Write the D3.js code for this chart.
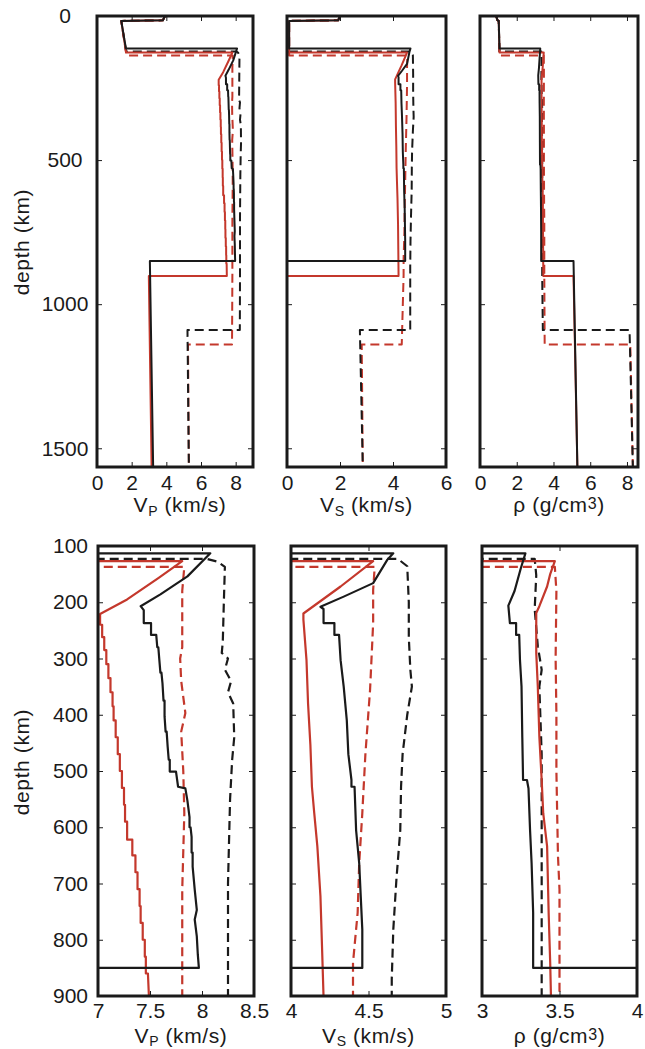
<!DOCTYPE html>
<html>
<head>
<meta charset="utf-8">
<title>profiles</title>
<script src="https://cdnjs.cloudflare.com/ajax/libs/d3/7.8.5/d3.min.js"></script>
<style>
  body { margin: 0; background: #fff; }
  svg { display: block; }
  text { font-family: "Liberation Sans", Arial, Helvetica, sans-serif; fill: #1a1a1a; }
</style>
</head>
<body>
<script>
// depth (km), value pairs
var vpBlackSolid = [[0,3.92],[15,3.8],[17,1.4],[113,1.67],[113,8.08],[154,7.86],[186,7.6],[207,7.41],[214,7.44],[237,7.44],[237,7.51],[258,7.51],[258,7.56],[280,7.57],[280,7.58],[303,7.59],[325,7.6],[325,7.61],[344,7.62],[375,7.63],[375,7.64],[403,7.64],[430,7.65],[430,7.66],[457,7.67],[480,7.68],[480,7.69],[501,7.69],[501,7.75],[528,7.77],[531,7.84],[553,7.86],[582,7.88],[600,7.88],[600,7.89],[617,7.90],[645,7.9],[645,7.91],[670,7.91],[711,7.93],[747,7.95],[764,7.93],[794,7.95],[827,7.96],[850,7.97],[850,3.05],[1565,3.24]];
var vpBlackDashed = [[0,3.92],[15,3.8],[17,1.4],[123,1.68],[123,8.05],[128,8.15],[137,8.22],[200,8.21],[270,8.2],[290,8.19],[300,8.25],[320,8.22],[340,8.28],[360,8.25],[380,8.3],[440,8.31],[480,8.29],[550,8.27],[700,8.25],[900,8.25],[1090,8.24],[1090,5.22],[1565,5.3]];
var vpRedSolid = [[0,3.92],[15,3.8],[17,1.4],[127,1.68],[127,7.81],[157,7.58],[195,7.28],[221,7.02],[240,7.02],[240,7.04],[262,7.04],[262,7.06],[285,7.06],[285,7.08],[310,7.08],[310,7.1],[335,7.1],[335,7.12],[360,7.12],[360,7.14],[385,7.14],[385,7.15],[410,7.15],[410,7.17],[440,7.17],[440,7.19],[470,7.19],[470,7.21],[500,7.21],[500,7.23],[530,7.23],[530,7.25],[560,7.25],[560,7.26],[590,7.26],[590,7.28],[622,7.28],[622,7.33],[650,7.33],[650,7.36],[680,7.36],[680,7.38],[710,7.38],[710,7.4],[740,7.4],[740,7.41],[770,7.41],[770,7.43],[800,7.43],[800,7.45],[830,7.45],[830,7.46],[860,7.46],[860,7.48],[902,7.49],[902,2.99],[1565,3.15]];
var vpRedDashed = [[0,3.92],[15,3.8],[17,1.4],[137,1.7],[137,7.83],[180,7.81],[280,7.81],[300,7.79],[340,7.8],[397,7.84],[430,7.8],[500,7.82],[575,7.83],[711,7.81],[900,7.81],[1140,7.79],[1140,5.25],[1565,5.3]];

var vsBlackSolid = [[0,2.0],[15,1.93],[17,0.08],[113,0.08],[113,4.66],[125,4.62],[166,4.53],[190,4.34],[208,4.19],[212,4.21],[237,4.21],[237,4.28],[258,4.28],[258,4.31],[303,4.32],[350,4.34],[410,4.36],[470,4.37],[516,4.39],[528,4.39],[528,4.41],[605,4.42],[664,4.44],[723,4.45],[782,4.46],[850,4.46],[850,0],[1565,0]];
var vsBlackDashed = [[0,2.0],[15,1.93],[17,0.08],[123,0.08],[123,4.69],[136,4.75],[200,4.76],[262,4.76],[320,4.77],[350,4.78],[400,4.75],[470,4.72],[528,4.71],[605,4.705],[693,4.68],[782,4.66],[870,4.65],[900,4.65],[1090,4.65],[1090,2.75],[1565,2.86]];
var vsRedSolid = [[0,2.0],[15,1.93],[17,0.08],[127,0.08],[127,4.53],[172,4.32],[220,4.08],[231,4.08],[303,4.10],[380,4.11],[453,4.125],[528,4.135],[575,4.15],[634,4.17],[723,4.19],[811,4.20],[902,4.21],[902,0],[1565,0]];
var vsRedDashed = [[0,2.0],[15,1.93],[17,0.08],[137,0.08],[137,4.54],[178,4.53],[237,4.53],[297,4.52],[356,4.51],[470,4.48],[575,4.46],[664,4.44],[752,4.43],[841,4.40],[900,4.40],[1140,4.33],[1140,2.82],[1565,2.86]];

var rhoBlackSolid = [[0,0.88],[15,0.95],[17,1.02],[113,1.06],[113,3.28],[140,3.25],[180,3.21],[206,3.17],[237,3.18],[237,3.22],[258,3.22],[258,3.24],[303,3.245],[350,3.255],[440,3.26],[516,3.265],[516,3.29],[531,3.30],[605,3.31],[664,3.32],[752,3.33],[850,3.33],[850,5.09],[1565,5.3]];
var rhoBlackDashed = [[0,0.88],[15,0.95],[17,1.02],[123,1.06],[123,3.34],[152,3.35],[212,3.34],[278,3.36],[320,3.385],[350,3.37],[470,3.385],[711,3.385],[900,3.385],[1090,3.42],[1090,8.14],[1565,8.32]];
var rhoRedSolid = [[0,0.88],[15,0.95],[17,1.02],[127,1.06],[127,3.47],[150,3.44],[172,3.42],[207,3.37],[219,3.35],[290,3.35],[350,3.36],[439,3.37],[516,3.385],[575,3.395],[634,3.42],[752,3.43],[841,3.44],[902,3.445],[902,5.09],[1565,5.3]];
var rhoRedDashed = [[0,0.88],[15,0.95],[17,1.02],[137,1.06],[137,3.47],[180,3.48],[300,3.475],[400,3.48],[500,3.48],[650,3.49],[711,3.50],[900,3.50],[1140,3.52],[1140,8.18],[1565,8.32]];

var depthFull = [0, 1565];
var depthZoom = [100, 900];
var depthTicksFull = [0, 500, 1000, 1500];
var depthTicksZoom = [100, 200, 300, 400, 500, 600, 700, 800, 900];

var vpTicksFull = [0, 2, 4, 6, 8];
var vsTicksFull = [0, 2, 4, 6];
var rhoTicksFull = [0, 2, 4, 6, 8];
var vpTicksZoom = [7, 7.5, 8, 8.5];
var vsTicksZoom = [4, 4.5, 5];
var rhoTicksZoom = [3, 3.5, 4];

var black = '#1a1a1a';
var red = '#c4382c';

// drawing order: red dashed, black dashed, red solid, black solid
var profiles = {
  vp: [vpRedDashed, vpBlackDashed, vpRedSolid, vpBlackSolid],
  vs: [vsRedDashed, vsBlackDashed, vsRedSolid, vsBlackSolid],
  rho: [rhoRedDashed, rhoBlackDashed, rhoRedSolid, rhoBlackSolid]
};
var styles = [
  { color: red, dash: '9,5' },
  { color: black, dash: '9,5' },
  { color: red, dash: null },
  { color: black, dash: null }
];

var rows = [
  { top: 16, bottom: 467, depth: depthFull, yTicks: depthTicksFull, labelMiddle: true, tickLabelPad: 8, titleY: 512, subDy: 4, depthTitleY: 242,
    panels: [
      { key: 'vp', left: 97, right: 253, domain: [0, 9], ticks: vpTicksFull },
      { key: 'vs', left: 287, right: 446, domain: [0, 6], ticks: vsTicksFull },
      { key: 'rho', left: 480, right: 638, domain: [0, 8.6], ticks: rhoTicksFull }
    ] },
  { top: 546, bottom: 996, depth: depthZoom, yTicks: depthTicksZoom, labelMiddle: false, tickLabelPad: 7, titleY: 1043, subDy: 3, depthTitleY: 762,
    panels: [
      { key: 'vp', left: 98, right: 254, domain: [7, 8.5], ticks: vpTicksZoom },
      { key: 'vs', left: 291, right: 446, domain: [4, 5], ticks: vsTicksZoom },
      { key: 'rho', left: 482, right: 637, domain: [3, 4], ticks: rhoTicksZoom }
    ] }
];

var svg = d3.select('body').append('svg')
  .attr('width', 645)
  .attr('height', 1049);

var defs = svg.append('defs');

function styleAxis(g) {
  g.select('.domain').remove();
  g.selectAll('.tick line').attr('stroke', black).attr('stroke-width', 1);
  g.selectAll('.tick text')
    .attr('fill', black)
    .style('font-size', '21px')
    .style('font-family', '"Liberation Sans", Arial, Helvetica, sans-serif');
}

function xTitle(g, key, cx, y, subDy) {
  var t = g.append('text')
    .attr('x', cx)
    .attr('y', y)
    .attr('text-anchor', 'middle')
    .style('font-size', '21px')
    .style('letter-spacing', '0.6px');
  if (key === 'vp' || key === 'vs') {
    t.append('tspan').text('V');
    t.append('tspan').attr('dy', subDy).style('font-size', '14px').text(key === 'vp' ? 'P' : 'S');
    t.append('tspan').attr('dy', -subDy).text(' (km/s)');
  } else {
    t.append('tspan').text('\u03c1 (g/cm');
    t.append('tspan').attr('dy', -3).style('font-size', '16px').text('3');
    t.append('tspan').attr('dy', 3).text(')');
  }
}

rows.forEach(function(row, ri) {
  var y = d3.scaleLinear().domain(row.depth).range([row.top, row.bottom]);

  row.panels.forEach(function(p, pi) {
    var x = d3.scaleLinear().domain(p.domain).range([p.left, p.right]);
    var g = svg.append('g');
    var clipId = 'clip-' + ri + '-' + pi;

    defs.append('clipPath').attr('id', clipId)
      .append('rect')
        .attr('x', p.left)
        .attr('y', row.top)
        .attr('width', p.right - p.left)
        .attr('height', row.bottom - row.top);

    var line = d3.line()
      .x(function(d) { return x(d[1]); })
      .y(function(d) { return y(d[0]); });

    g.append('g')
      .attr('clip-path', 'url(#' + clipId + ')')
      .selectAll('path')
      .data(profiles[p.key])
      .enter()
      .append('path')
        .attr('d', line)
        .attr('fill', 'none')
        .attr('stroke', function(d, i) { return styles[i].color; })
        .attr('stroke-width', ri === 0 ? 2 : 2.2)
        .attr('stroke-dasharray', function(d, i) { return styles[i].dash; })
        .attr('stroke-linejoin', 'round');

    // inward ticks on all four sides
    g.append('g')
      .attr('transform', 'translate(0,' + row.bottom + ')')
      .call(d3.axisBottom(x).tickValues(p.ticks).tickSize(-5).tickPadding(row.tickLabelPad)
        .tickFormat(function(d) { return String(d); }))
      .call(styleAxis);

    g.append('g')
      .attr('transform', 'translate(0,' + row.top + ')')
      .call(d3.axisTop(x).tickValues(p.ticks).tickSize(-5).tickFormat(''))
      .call(styleAxis);

    var left = g.append('g')
      .attr('transform', 'translate(' + p.left + ',0)')
      .call(d3.axisLeft(y).tickValues(row.yTicks).tickSize(-5).tickPadding(10)
        .tickFormat(pi === 0 ? function(d) { return String(d); } : ''))
      .call(styleAxis);
    if (pi === 0 && row.labelMiddle) {
      left.selectAll('.tick text').attr('text-anchor', 'middle').attr('x', -32);
    }

    g.append('g')
      .attr('transform', 'translate(' + p.right + ',0)')
      .call(d3.axisRight(y).tickValues(row.yTicks).tickSize(-5).tickFormat(''))
      .call(styleAxis);

    // frame
    g.append('rect')
      .attr('x', p.left)
      .attr('y', row.top)
      .attr('width', p.right - p.left)
      .attr('height', row.bottom - row.top)
      .attr('fill', 'none')
      .attr('stroke', black)
      .attr('stroke-width', 3);

    xTitle(g, p.key, (p.left + p.right) / 2 + (p.key === 'vp' ? 5 : 0), row.titleY, row.subDy);
  });

  svg.append('text')
    .attr('transform', 'translate(29,' + row.depthTitleY + ') rotate(-90)')
    .attr('text-anchor', 'middle')
    .style('font-size', '21px')
    .style('letter-spacing', '0.6px')
    .text('depth (km)');
});
</script>
</body>
</html>
